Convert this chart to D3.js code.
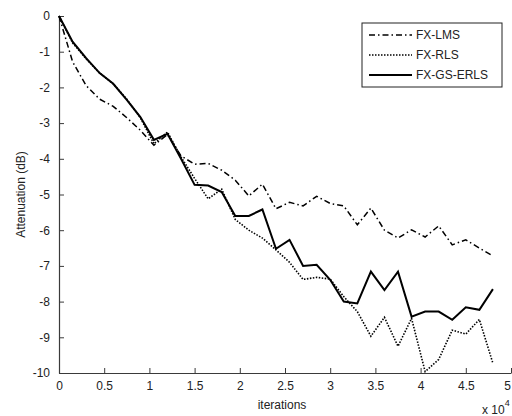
<!DOCTYPE html>
<html>
<head>
<meta charset="utf-8">
<script src="https://cdn.jsdelivr.net/npm/d3@7"></script>
<style>
  html, body { margin: 0; padding: 0; background: #fff; }
  svg { display: block; font-family: Arial, "Liberation Sans", Helvetica, sans-serif; }
</style>
</head>
<body>
<svg id="chart" width="512" height="416"></svg>
<script>
// Iterations (in units of 10^4)
const iterations = [0, 0.15, 0.3, 0.45, 0.6, 0.75, 0.9, 1.05, 1.2, 1.35, 1.5, 1.65, 1.8, 1.95,
  2.1, 2.25, 2.4, 2.55, 2.7, 2.85, 3.0, 3.15, 3.3, 3.45, 3.6, 3.75, 3.9, 4.05, 4.2, 4.35, 4.5, 4.65, 4.8];

// Attenuation in dB for each algorithm
const fxLms = [0, -1.28, -1.95, -2.33, -2.53, -2.85, -3.2, -3.62, -3.32, -3.92, -4.15, -4.13, -4.32, -4.6,
  -5.04, -4.71, -5.4, -5.22, -5.32, -5.05, -5.25, -5.32, -5.85, -5.38, -6.0, -6.22, -5.99, -6.19, -5.88, -6.41, -6.27, -6.5, -6.72];
const fxRls = [0, -0.75, -1.2, -1.6, -1.9, -2.33, -2.85, -3.58, -3.25, -3.95, -4.55, -5.12, -4.85, -5.7,
  -6.0, -6.22, -6.55, -6.9, -7.38, -7.32, -7.37, -7.86, -8.28, -8.97, -8.44, -9.25, -8.47, -9.96, -9.62, -8.8, -8.91, -8.5, -9.73];
const fxGsErls = [0, -0.72, -1.18, -1.6, -1.9, -2.35, -2.83, -3.47, -3.3, -4.0, -4.73, -4.75, -4.93, -5.6,
  -5.6, -5.42, -6.52, -6.27, -7.0, -6.97, -7.39, -8.0, -8.05, -7.16, -7.68, -7.16, -8.42, -8.28, -8.28, -8.51, -8.16, -8.23, -7.65];

const seriesNames = ["FX-LMS", "FX-RLS", "FX-GS-ERLS"];
const xTicks = [0, 0.5, 1, 1.5, 2, 2.5, 3, 3.5, 4, 4.5, 5];
const yTicks = [0, -1, -2, -3, -4, -5, -6, -7, -8, -9, -10];

const svg = d3.select("#chart");
const plot = { left: 59, right: 511, top: 16, bottom: 373 };

const x = d3.scaleLinear().domain([0, 5]).range([plot.left, plot.right]);
const y = d3.scaleLinear().domain([-10, 0]).range([plot.bottom, plot.top]);

const axisColor = "#3a3a3a";

// Axes with inward ticks
const xAxis = svg.append("g")
  .attr("transform", `translate(0,${plot.bottom})`)
  .call(d3.axisBottom(x).tickValues(xTicks).tickFormat(d3.format("")).tickSizeInner(-5).tickSizeOuter(0).tickPadding(8));
const yAxis = svg.append("g")
  .attr("transform", `translate(${plot.left},0)`)
  .call(d3.axisLeft(y).tickValues(yTicks).tickFormat(d3.format("")).tickSizeInner(-5).tickSizeOuter(0).tickPadding(9));

[xAxis, yAxis].forEach(g => {
  g.selectAll("path.domain").attr("stroke", axisColor).attr("stroke-width", 1.2);
  g.selectAll(".tick line").attr("stroke", axisColor).attr("stroke-width", 1);
  g.selectAll(".tick text").attr("fill", "#222").style("font-size", "12px")
    .style("font-family", "Arial, 'Liberation Sans', sans-serif");
});
// Minus signs as plain hyphens
yAxis.selectAll(".tick text").text(d => String(d));
// Keep the last x label inside the canvas edge
xAxis.selectAll(".tick text").filter(d => d === 5).attr("dx", -4);

// Axis titles
svg.append("text")
  .attr("x", 282).attr("y", 409)
  .attr("text-anchor", "middle")
  .style("font-size", "12px").attr("fill", "#222")
  .text("iterations");

svg.append("text")
  .attr("transform", `translate(25,${(plot.top + plot.bottom) / 2}) rotate(-90)`)
  .attr("text-anchor", "middle")
  .style("font-size", "12px").attr("fill", "#222")
  .text("Attenuation (dB)");

const expo = svg.append("text")
  .attr("x", 482).attr("y", 414)
  .style("font-size", "12px").attr("fill", "#222");
expo.append("tspan").text("x 10");
expo.append("tspan").attr("dy", -8).style("font-size", "9px").text("4");

// Lines
const styles = [
  { data: fxLms, width: 1.5, dash: "6,3,1.5,3" },
  { data: fxRls, width: 1.6, dash: "1.5,1.5" },
  { data: fxGsErls, width: 2, dash: null }
];

const line = d3.line()
  .x((d, i) => x(iterations[i]))
  .y(d => y(d));

styles.forEach(s => {
  svg.append("path")
    .datum(s.data)
    .attr("fill", "none")
    .attr("stroke", "#000")
    .attr("stroke-width", s.width)
    .attr("stroke-dasharray", s.dash)
    .attr("stroke-linejoin", "miter")
    .attr("d", line);
});

// Legend
const lg = svg.append("g");
lg.append("rect")
  .attr("x", 362).attr("y", 23)
  .attr("width", 140).attr("height", 64)
  .attr("fill", "#fff").attr("stroke", "#222").attr("stroke-width", 1);

seriesNames.forEach((name, i) => {
  const yy = 35 + i * 20;
  lg.append("line")
    .attr("x1", 369).attr("x2", 412)
    .attr("y1", yy).attr("y2", yy)
    .attr("stroke", "#000")
    .attr("stroke-width", styles[i].width)
    .attr("stroke-dasharray", styles[i].dash);
  lg.append("text")
    .attr("x", 416).attr("y", yy + 4)
    .style("font-size", "12px").attr("fill", "#222")
    .text(name);
});
</script>
</body>
</html>
